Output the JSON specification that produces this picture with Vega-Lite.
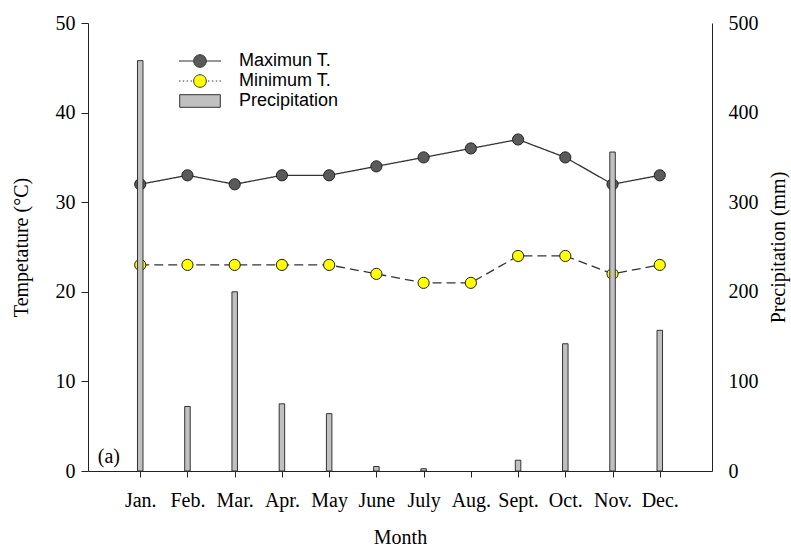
{
  "$schema": "https://vega.github.io/schema/vega-lite/v6.json",
  "autosize": "none",
  "width": 624,
  "height": 448,
  "padding": {"left": 88, "top": 23, "right": 79, "bottom": 78},
  "background": "white",
  "config": {
    "view": {"stroke": null},
    "axis": {
      "labelFont": "Liberation Serif",
      "titleFont": "Liberation Serif",
      "labelFontSize": 20,
      "titleFontSize": 20,
      "titleFontWeight": "normal",
      "labelColor": "#000",
      "titleColor": "#000",
      "domainColor": "#222",
      "tickColor": "#222",
      "grid": false
    },
    "legend": {
      "title": null,
      "orient": "none",
      "legendX": 103,
      "legendY": 29,
      "direction": "vertical",
      "labelFont": "Liberation Sans",
      "labelFontSize": 18,
      "labelColor": "#000",
      "labelOffset": 30,
      "rowPadding": 2,
      "symbolSize": 196,
      "symbolStrokeColor": "#333",
      "symbolStrokeWidth": 1,
      "symbolOpacity": 1
    }
  },
  "datasets": {
    "temp": [
      {"month": 1, "series": "Maximun T.", "value": 32},
      {"month": 2, "series": "Maximun T.", "value": 33},
      {"month": 3, "series": "Maximun T.", "value": 32},
      {"month": 4, "series": "Maximun T.", "value": 33},
      {"month": 5, "series": "Maximun T.", "value": 33},
      {"month": 6, "series": "Maximun T.", "value": 34},
      {"month": 7, "series": "Maximun T.", "value": 35},
      {"month": 8, "series": "Maximun T.", "value": 36},
      {"month": 9, "series": "Maximun T.", "value": 37},
      {"month": 10, "series": "Maximun T.", "value": 35},
      {"month": 11, "series": "Maximun T.", "value": 32},
      {"month": 12, "series": "Maximun T.", "value": 33},
      {"month": 1, "series": "Minimum T.", "value": 23},
      {"month": 2, "series": "Minimum T.", "value": 23},
      {"month": 3, "series": "Minimum T.", "value": 23},
      {"month": 4, "series": "Minimum T.", "value": 23},
      {"month": 5, "series": "Minimum T.", "value": 23},
      {"month": 6, "series": "Minimum T.", "value": 22},
      {"month": 7, "series": "Minimum T.", "value": 21},
      {"month": 8, "series": "Minimum T.", "value": 21},
      {"month": 9, "series": "Minimum T.", "value": 24},
      {"month": 10, "series": "Minimum T.", "value": 24},
      {"month": 11, "series": "Minimum T.", "value": 22},
      {"month": 12, "series": "Minimum T.", "value": 23}
    ],
    "precip": [
      {"month": 1, "precipitation": 458},
      {"month": 2, "precipitation": 72},
      {"month": 3, "precipitation": 200},
      {"month": 4, "precipitation": 75},
      {"month": 5, "precipitation": 64},
      {"month": 6, "precipitation": 5},
      {"month": 7, "precipitation": 2.5},
      {"month": 9, "precipitation": 12},
      {"month": 10, "precipitation": 142},
      {"month": 11, "precipitation": 356},
      {"month": 12, "precipitation": 157}
    ],
    "label": [
      {"month": 0.1, "value": 1.6, "text": "(a)"}
    ]
  },
  "encoding": {
    "x": {
      "field": "month",
      "type": "quantitative",
      "scale": {"domain": [0, 13], "nice": false, "zero": false},
      "axis": {
        "values": [1, 2, 3, 4, 5, 6, 7, 8, 9, 10, 11, 12],
        "labelExpr": "['Jan.','Feb.','Mar.','Apr.','May','June','July','Aug.','Sept.','Oct.','Nov.','Dec.'][datum.value - 1]",
        "title": "Month",
        "tickSize": 6,
        "labelPadding": 13,
        "titlePadding": 17,
        "labelFlush": false,
        "labelOverlap": false
      }
    }
  },
  "layer": [
    {
      "data": {"name": "temp"},
      "encoding": {
        "y": {
          "field": "value",
          "type": "quantitative",
          "scale": {"domain": [0, 50], "nice": false},
          "axis": {
            "values": [0, 10, 20, 30, 40, 50],
            "title": "Tempetature (°C)",
            "tickSize": 7,
            "labelPadding": 6,
            "titlePadding": 24,
            "labelFlush": false
          }
        }
      },
      "layer": [
        {
          "mark": {"type": "line", "color": "#333", "strokeWidth": 1.3},
          "encoding": {
            "detail": {"field": "series"},
            "strokeDash": {
              "field": "series",
              "scale": {"domain": ["Maximun T.", "Minimum T."], "range": [[1, 0], [9, 5]]},
              "legend": null
            }
          }
        },
        {
          "mark": {"type": "point", "filled": true, "size": 125, "stroke": "#222", "strokeWidth": 1, "opacity": 1},
          "encoding": {
            "fill": {
              "field": "series",
              "type": "nominal",
              "scale": {
                "domain": ["Maximun T.", "Minimum T.", "Precipitation"],
                "range": ["#5a5a5a", "#ffff00", "#c0c0c0"]
              }
            }
          }
        },
        {
          "mark": {"type": "point", "filled": true, "size": 196, "opacity": 0, "stroke": "#333", "strokeWidth": 1},
          "encoding": {
            "fill": {
              "field": "series",
              "type": "nominal",
              "scale": {
                "domain": ["Maximun T.", "Minimum T.", "Precipitation"],
                "range": ["#5a5a5a", "#ffff00", "#c0c0c0"]
              },
              "legend": {
                "encode": {
                  "symbols": {
                    "update": {
                      "stroke": {"value": "#333"},
                      "strokeWidth": {"value": 1},
                      "opacity": {"value": 1}
                    }
                  }
                }
              }
            },
            "shape": {
              "field": "series",
              "type": "nominal",
              "scale": {
                "domain": ["Maximun T.", "Minimum T.", "Precipitation"],
                "range": [
                  "M-3,0 L-0.9,0 M0.9,0 L3,0 M-0.9,0 A0.9,0.9 0 1,1 0.9,0 A0.9,0.9 0 1,1 -0.9,0 Z",
                  "M-3,0 L-2.8,0 M-2.45,0 L-2.25,0 M-1.9,0 L-1.7,0 M-1.35,0 L-1.15,0 M1.15,0 L1.35,0 M1.7,0 L1.9,0 M2.25,0 L2.45,0 M2.8,0 L3,0 M-0.9,0 A0.9,0.9 0 1,1 0.9,0 A0.9,0.9 0 1,1 -0.9,0 Z",
                  "M-2.9,-0.9 L2.9,-0.9 L2.9,0.9 L-2.9,0.9 Z"
                ]
              },
              "legend": {
                "encode": {
                  "symbols": {
                    "update": {
                      "stroke": {"value": "#333"},
                      "strokeWidth": {"value": 1},
                      "opacity": {"value": 1}
                    }
                  }
                }
              }
            }
          }
        },
        {
          "data": {"name": "label"},
          "mark": {"type": "text", "align": "left", "baseline": "middle", "font": "Liberation Serif", "fontSize": 20, "color": "#000"},
          "encoding": {
            "text": {"field": "text"}
          }
        }
      ]
    },
    {
      "data": {"name": "precip"},
      "mark": {"type": "bar", "width": 5.5, "fill": "#c0c0c0", "stroke": "#333", "strokeWidth": 1},
      "encoding": {
        "y": {
          "field": "precipitation",
          "type": "quantitative",
          "scale": {"domain": [0, 500], "nice": false},
          "axis": {
            "orient": "right",
            "values": [0, 100, 200, 300, 400, 500],
            "title": "Precipitation (mm)",
            "titleAngle": 270,
            "tickSize": 0,
            "labelPadding": 16,
            "titlePadding": 30,
            "labelFlush": false
          }
        }
      }
    }
  ],
  "resolve": {"scale": {"y": "independent"}}
}
